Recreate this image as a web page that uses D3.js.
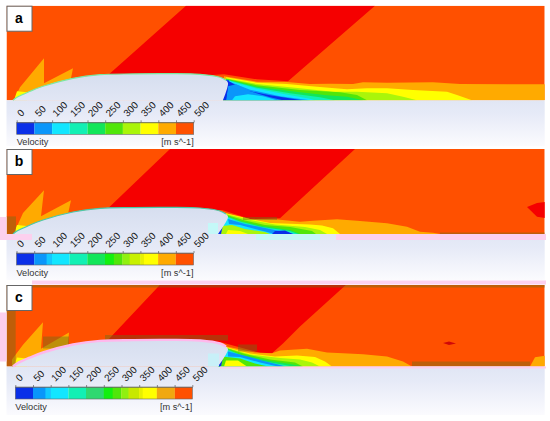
<!DOCTYPE html>
<html>
<head>
<meta charset="utf-8">
<script src="https://cdn.jsdelivr.net/npm/d3@7"></script>
<style>
  body { margin: 0; background: #fff; }
  text { font-family: "Liberation Sans", Arial, sans-serif; }
</style>
</head>
<body>
<div id="chart"></div>
<script>
// Velocity bins of the colour bar
var levels = [0, 50, 100, 150, 200, 250, 300, 350, 400, 450, 500];
var levelColors = ["#0a2fe8", "#0a96fa", "#12e6ff", "#12f0b4", "#12e65a", "#50e60a",
                   "#aaf50a", "#ffff00", "#ffaa00", "#ff5000"];
var overRange = "#f50000";

// Contours, [x, height above the wall] in image units
var profile = [[13, 0], [17, 3], [30, 9], [43, 14], [73, 22], [100, 25.6], [133, 26.4], [167, 26.6],
               [200, 26], [220, 23], [226, 20]];
var noseTip = [[14, 0], [17, 9], [27, 8], [27, 0]];

// panel a
var redA = [[186, 94.6], [375, 94.6], [288, 19], [257, 21], [224, 26], [100, 18]];
var shockA = [[15, 3], [20, 13], [44, 42], [44, 17], [73, 32], [71, 22], [70, 8], [15, 0]];
var baseA = [[223, 0], [226, 20], [229, 20], [226, 0]];
var wakeA = [
  [400, [[224, 24], [257, 18.6], [287, 18.3], [310, 16.3], [330, 16.6], [353, 16.3], [363, 18], [387, 17.6], [433, 18], [460, 16.3], [546, 16], [546, 0], [223, 0]]],
  [350, [[226, 23], [257, 17.6], [287, 16.3], [317, 13.6], [347, 11], [367, 12], [387, 12], [413, 10.3], [447, 8.6], [457, 5.3], [472, 0], [223, 0]]],
  [300, [[226, 22], [257, 16.3], [300, 12], [333, 8.6], [357, 8.6], [387, 7], [403, 3.6], [417, 0], [223, 0]]],
  [250, [[226, 21.6], [257, 15], [300, 10.3], [340, 8], [357, 5.3], [367, 0], [223, 0]]],
  [200, [[226, 21], [257, 13.6], [300, 8], [327, 5], [347, 3.6], [363, 0], [223, 0]]],
  [150, [[227, 20.6], [257, 12.6], [290, 7], [320, 3], [335, 0], [223, 0]]],
  [100, [[227, 20], [257, 11.5], [285, 6], [310, 1.5], [315, 0], [223, 0]]],
  [50, [[227, 19.6], [250, 10.6], [280, 4], [310, 0], [223, 0]]],
  [0, [[228, 19.5], [245, 10], [270, 5], [302, 0], [223, 0]]],
  [50, [[226, 0], [228, 14], [236, 16], [250, 9], [270, 3], [283, 0]]],
  [100, [[232, 0], [235, 4], [248, 6], [263, 4], [277, 0]]]
];

// panel b
var redB = [[170, 85], [355, 85], [280, 15.7], [250, 15], [222, 24], [100, 18]];
var shockB = [[15, 3], [23, 21], [44, 43.7], [41, 17.7], [71, 33.7], [68, 20], [68, 8], [15, 0]];
var blobB = [[527, 27], [537, 31], [546, 32], [546, 15.7], [537, 17.3]];
var wakeB = [
  [400, [[222, 22], [250, 15], [275, 14.7], [300, 12.3], [313, 13.3], [337, 14.7], [357, 13.3], [387, 10.7], [407, 7.3], [420, 2.3], [433, 1.3], [440, 0], [218, 0]]],
  [350, [[222, 21.5], [250, 15], [270, 11], [310, 9.5], [322, 8.5], [333, 5.7], [340, 0], [218, 0]]],
  [300, [[222, 21], [250, 14], [275, 9.5], [305, 7], [320, 4], [327, 0], [218, 0]]],
  [250, [[222, 20.5], [245, 13.5], [265, 9], [290, 7], [312, 3], [316, 0], [218, 0]]],
  [200, [[222, 20], [240, 13], [262, 8], [290, 4], [300, 0], [218, 0]]],
  [150, [[223, 19], [240, 12.5], [262, 7], [290, 3], [298, 0], [218, 0]]],
  [100, [[224, 18], [240, 11], [262, 6], [285, 3], [295, 0], [218, 0]]],
  [300, [[219, 0], [222, 8], [232, 9], [245, 5], [265, 2], [270, 0]]],
  [350, [[226, 0], [228, 4], [240, 3], [248, 0]]],
  [50, [[228, 15], [245, 10], [270, 5], [294, 0], [275, 0], [255, 5], [240, 9], [229, 10]]],
  [0, [[272, 0], [275, 3], [285, 3.5], [293, 0]]],
  [0, [[218, 0], [221, 9], [223, 9], [221, 0]]]
];

// panel c
var redC = [[160, 81.7], [346, 81.7], [300, 40], [283, 23], [272, 13.3], [262, 13], [222, 24], [100, 18]];
var shockC = [[12, 7], [23, 21.7], [43, 44.3], [41, 17.7], [69, 34], [68, 21.7], [68, 8], [12, 0]];
var blobC = [[443, 23.5], [449, 25], [456, 23], [449, 21.5]];
var tailC = [[530, 0], [535, 9.3], [546, 11], [546, 0]];
var wakeC = [
  [400, [[222, 21], [255, 14], [272, 13.3], [280, 16], [307, 17.7], [327, 14], [343, 13.3], [363, 12.3], [387, 10], [403, 5], [412, 0], [218, 0]]],
  [350, [[222, 20.5], [250, 13], [275, 10], [297, 11], [315, 9.5], [325, 5], [332, 0], [218, 0]]],
  [300, [[222, 20], [250, 12], [280, 8.5], [300, 7], [312, 4], [320, 0], [218, 0]]],
  [250, [[223, 19.5], [245, 12.5], [270, 7], [295, 4], [303, 0], [218, 0]]],
  [200, [[224, 19], [240, 12], [268, 6], [290, 2.5], [303, 0], [218, 0]]],
  [150, [[225, 18], [242, 11], [265, 5], [285, 1.5], [293, 0], [218, 0]]],
  [100, [[226, 16], [243, 10], [262, 4], [278, 1], [285, 0], [218, 0]]],
  [250, [[219, 0], [222, 10], [240, 8], [255, 3], [268, 0]]],
  [350, [[224, 0], [226, 6], [238, 6], [247, 0]]],
  [50, [[228, 15], [240, 12], [262, 6], [280, 1.5], [285, 0], [278, 0], [260, 4], [240, 9.5], [228, 10]]],
  [0, [[218, 0], [221, 9], [223, 9], [221, 0]]]
];

// Tinted print artefacts in the source figure: [x0, x1, h0, h1]
var brownB = [[6.5, 16, 0, 17.6], [243, 277, 14, 17], [440, 546, 0, 1.5]];
var brownC = [[6.5, 15.7, 0, 81.7], [6.5, 546, 79, 81.7], [105, 228, 26, 31.5], [43, 69, 18, 30], [238, 257, 15, 22], [412, 530, 0, 5]];
var pinkB = [[0, 6.5, 0, 17], [0, 32, -6, 0], [336, 546, -6, 0]];
var cyanB = [[208, 218, 0, 11], [256, 320, -6, 0]];
var pinkC = [[32, 546, 82, 86], [0, 6.5, 5, 54], [220, 546, -2, 0]];
var cyanC = [[208, 219, 0, 13]];

// Colour bar streaks in the lower two panels: [value0, value1, colour]
var streaksB = [[85, 100, "#12c8ff"], [250, 275, "#12f010"], [300, 320, "#90f010"], [320, 350, "#c8f000"], [350, 360, "#e8f000"]];
var streaksC = [[85, 100, "#12c8ff"], [200, 250, "#30d870"], [250, 275, "#12f010"], [300, 320, "#90f010"], [320, 350, "#c8e800"], [350, 360, "#e8f000"], [400, 450, "#f0a810"]];

// Layout of the three stacked panels
var panels = [
  {name: "a", top: 5.7, wall: 100.3, red: redA, shock: shockA, wake: wakeA, extra: [baseA], barX: 16.7, barY: 122.3, backEnd: 146, edge: "#7ce8a0", edgeWidth: 1.2,
   blobs: [], tint: [], streaks: []},
  {name: "b", top: 149, wall: 234, red: redB, shock: shockB, wake: wakeB, extra: [], barX: 16.5, barY: 253, backEnd: 280, edge: "#4cc8a8", edgeWidth: 1.2,
   blobs: [[blobB, overRange]], tint: [[brownB, "#6e6e14", 0.45], [pinkB, "#fcd0ee", 1], [cyanB, "#c4f8f8", 1]], streaks: streaksB},
  {name: "c", top: 285, wall: 366.5, red: redC, shock: shockC, wake: wakeC, extra: [], barX: 15.3, barY: 387, backEnd: 415, edge: "#ffb8ec", edgeWidth: 2.4,
   blobs: [[blobC, "#d00808"], [tailC, levelColors[8]]], tint: [[brownC, "#6e6e14", 0.45], [pinkC, "#fcd0ee", 1], [cyanC, "#c8f0f8", 1]], streaks: streaksC}
];

var width = 550, height = 421;
var barWidth = 177, barHeight = 12;

var svg = d3.select("#chart").append("svg")
    .attr("width", width)
    .attr("height", height)
    .style("display", "block");
var defs = svg.append("defs");

var x = d3.scaleLinear().domain([6.5, 544.7]).range([6.5, 544.7]);

function colorOf(level) {
  return levelColors[levels.indexOf(level)];
}

panels.forEach(function(p, i) {
  var y = d3.scaleLinear().domain([0, p.wall - p.top]).range([p.wall, p.top]);
  var line = d3.line().x(d => x(d[0])).y(d => y(d[1]));
  var g = svg.append("g");

  // Backdrop gradient, also used for the body
  var grad = defs.append("linearGradient")
      .attr("id", "bg" + i)
      .attr("gradientUnits", "userSpaceOnUse")
      .attr("x1", 0).attr("x2", 0)
      .attr("y1", y(27)).attr("y2", p.backEnd);
  grad.append("stop").attr("offset", 0).attr("stop-color", "#d6deef");
  grad.append("stop").attr("offset", 0.55).attr("stop-color", "#e6eaf7");
  grad.append("stop").attr("offset", 1).attr("stop-color", "#fbfbfe");

  defs.append("clipPath").attr("id", "clip" + i)
    .append("rect")
      .attr("x", x(6.5)).attr("y", p.top)
      .attr("width", x(544.7) - x(6.5)).attr("height", p.wall - p.top);

  g.append("rect")
      .attr("x", x(6.5)).attr("y", p.wall)
      .attr("width", x(544.7) - x(6.5)).attr("height", p.backEnd - p.wall)
      .attr("fill", "url(#bg" + i + ")");

  // Flow field
  var field = g.append("g").attr("clip-path", "url(#clip" + i + ")");
  field.append("rect")
      .attr("x", x(6.5)).attr("y", p.top)
      .attr("width", x(544.7) - x(6.5)).attr("height", p.wall - p.top)
      .attr("fill", colorOf(450));
  field.append("path").attr("d", line(p.red) + "Z").attr("fill", overRange);
  field.append("path").attr("d", line(p.shock) + "Z").attr("fill", colorOf(400));
  field.append("path").attr("d", line(noseTip) + "Z").attr("fill", colorOf(350));
  p.blobs.forEach(function(b) {
    field.append("path").attr("d", line(b[0]) + "Z").attr("fill", b[1]);
  });
  field.selectAll("path.wake")
    .data(p.wake)
    .enter()
    .append("path")
      .attr("class", "wake")
      .attr("d", d => line(d[1]) + "Z")
      .attr("fill", d => colorOf(d[0]));
  p.extra.forEach(function(b) {
    field.append("path").attr("d", line(b) + "Z").attr("fill", colorOf(0));
  });

  // Tinted blocks sit on the field but under the body
  p.tint.filter(t => t[2] < 1).forEach(function(t) {
    field.selectAll(null)
      .data(t[0])
      .enter()
      .append("rect")
        .attr("x", d => x(d[0]))
        .attr("width", d => x(d[1]) - x(d[0]))
        .attr("y", d => y(d[3]))
        .attr("height", d => y(d[2]) - y(d[3]))
        .attr("fill", t[1])
        .attr("opacity", t[2]);
  });

  // Body outline, the base closes it on the wall
  var baseFoot = d3.min(p.wake.map(w => d3.min(w[1], d => d[0])));
  var body = profile.concat([[228, 17], [baseFoot, 0]]);
  g.append("path")
      .attr("d", line.curve(d3.curveCatmullRom)(body) + "Z")
      .attr("fill", "url(#bg" + i + ")");
  g.append("path")
      .attr("d", line(body.slice(0, profile.length)))
      .attr("fill", "none")
      .attr("stroke", p.edge)
      .attr("stroke-width", p.edgeWidth);
  line.curve(d3.curveLinear);

  p.tint.filter(t => t[2] === 1).forEach(function(t) {
    g.selectAll(null)
      .data(t[0])
      .enter()
      .append("rect")
        .attr("x", d => x(d[0]))
        .attr("width", d => x(d[1]) - x(d[0]))
        .attr("y", d => y(d[3]))
        .attr("height", d => y(d[2]) - y(d[3]))
        .attr("fill", t[1]);
  });

  // Panel letter
  g.append("rect")
      .attr("x", 7).attr("y", p.top + 0.5)
      .attr("width", 25).attr("height", 25)
      .attr("fill", "#fff")
      .attr("stroke", "#666");
  g.append("text")
      .attr("x", 19).attr("y", p.top + 17)
      .attr("text-anchor", "middle")
      .attr("font-size", 14)
      .attr("font-weight", "bold")
      .text(p.name);

  // Colour bar
  var barScale = d3.scaleLinear().domain([0, 500]).range([p.barX, p.barX + barWidth]);
  g.selectAll("rect.bin")
    .data(levelColors)
    .enter()
    .append("rect")
      .attr("class", "bin")
      .attr("x", (d, k) => barScale(levels[k]))
      .attr("y", p.barY)
      .attr("width", (d, k) => barScale(levels[k + 1]) - barScale(levels[k]))
      .attr("height", barHeight)
      .attr("fill", d => d);
  g.selectAll("rect.streak")
    .data(p.streaks)
    .enter()
    .append("rect")
      .attr("class", "streak")
      .attr("x", d => barScale(d[0]))
      .attr("y", p.barY)
      .attr("width", d => barScale(d[1]) - barScale(d[0]))
      .attr("height", barHeight)
      .attr("fill", d => d[2]);
  g.append("rect")
      .attr("x", barScale(0)).attr("y", p.barY)
      .attr("width", barWidth).attr("height", barHeight)
      .attr("fill", "none")
      .attr("stroke", "#666")
      .attr("stroke-width", 0.6);

  var axis = g.append("g")
      .attr("transform", "translate(0," + p.barY + ")")
      .call(d3.axisTop(barScale).tickValues(levels).tickSize(2).tickSizeOuter(0));
  axis.select(".domain").attr("stroke", "#666").attr("stroke-width", 0.6);
  axis.selectAll(".tick line").attr("stroke", "#444").attr("stroke-width", 0.6);
  axis.selectAll(".tick text")
      .attr("x", 0).attr("y", 0).attr("dy", 0)
      .attr("transform", "translate(4,-5) rotate(-45)")
      .attr("text-anchor", "start")
      .attr("font-size", 9.8)
      .attr("font-family", "Liberation Sans")
      .attr("fill", "#111");

  g.append("text")
      .attr("x", barScale(0)).attr("y", p.barY + barHeight + 10.5)
      .attr("font-size", 9.2).attr("fill", "#333")
      .text("Velocity");
  g.append("text")
      .attr("x", barScale(500)).attr("y", p.barY + barHeight + 10.5)
      .attr("text-anchor", "end")
      .attr("font-size", 9.2).attr("fill", "#333")
      .text("[m s^-1]");
});
</script>
</body>
</html>
